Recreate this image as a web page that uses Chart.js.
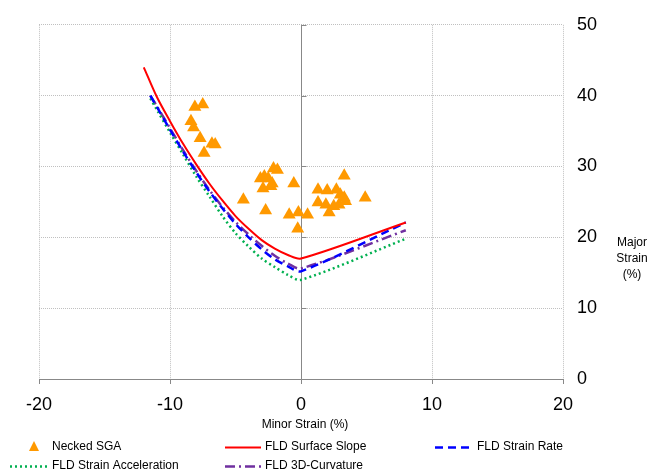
<!DOCTYPE html>
<html lang="en">
<head>
  <meta charset="UTF-8">
  <title>Forming Limit Diagram</title>
  <script src="https://cdn.jsdelivr.net/npm/chart.js"></script>
  <style>
    html, body { margin: 0; padding: 0; background: #fff; }
    #wrap { width: 661px; height: 474px; position: relative; }
  </style>
</head>
<body>
  <div id="wrap"><canvas id="fldChart" width="661" height="474"></canvas></div>

  <script>
    // Necked SGA measurements (minor, major strain %)
    const sgaMinor = [-8.1, -7.5, -8.4, -8.2, -7.7, -6.8, -6.55, -7.4,
      -2.1, -1.8, -3.1, -2.8, -2.5, -2.2, -2.9, -2.3, -0.55, -4.4, -2.7, -0.9, -0.2, 0.5, -0.25,
      3.3, 1.3, 2.0, 2.7, 3.0, 3.3, 4.9, 1.3, 1.9, 2.5, 2.9, 3.4, 2.15];
    const sgaMajor = [38.4, 38.75, 36.4, 35.5, 34.0, 33.2, 33.1, 31.9,
      29.7, 29.5, 28.3, 28.6, 28.3, 27.6, 26.9, 27.2, 27.6, 25.3, 23.8, 23.2, 23.5, 23.2, 21.2,
      28.7, 26.7, 26.6, 26.7, 26.0, 25.6, 25.6, 24.9, 24.6, 24.4, 24.6, 25.1, 23.5];

    // FLD curves
    const slopeMinor = [-12, -11, -10, -9, -8, -7, -6, -5, -4, -3, -2, -1, 0, 8];
    const slopeMajor = [44.0, 39.8, 36.4, 33.2, 30.3, 27.6, 25.2, 23.0, 21.2, 19.6, 18.4, 17.5, 17.0, 22.1];

    const curveMinor = [-11.5, -11, -10, -9, -8, -7, -6, -5, -4, -3, -2, -1, 0, 8];
    const rateMajor = [40.0, 38.4, 35.2, 32.1, 29.2, 26.5, 24.1, 21.9, 20.0, 18.3, 16.9, 15.9, 15.2, 22.1];
    const accelMajor = [39.6, 38.0, 34.8, 31.7, 28.6, 25.8, 23.0, 20.6, 18.7, 17.0, 15.8, 14.7, 14.0, 19.8];
    const curvMajor = [40.0, 38.5, 35.4, 32.3, 29.4, 26.7, 24.3, 22.2, 20.4, 18.8, 17.4, 16.3, 15.6, 21.0];

    const xTicks = [-20, -10, 0, 10, 20];
    const yTicks = [0, 10, 20, 30, 40, 50];

    const toPoints = (xs, ys) => xs.map((x, i) => ({ x: x, y: ys[i] }));

    const FONT = '"Liberation Sans", Arial, sans-serif';

    // custom legend, axis titles and the zero line
    const extras = {
      id: 'extras',
      beforeDatasetsDraw(chart) {
        const { ctx, chartArea, scales } = chart;
        const x0 = Math.round(scales.x.getPixelForValue(0)) + 0.5;
        ctx.save();
        ctx.strokeStyle = '#888';
        ctx.lineWidth = 1;
        ctx.beginPath();
        ctx.moveTo(x0, chartArea.top);
        ctx.lineTo(x0, chartArea.bottom);
        yTicks.forEach(v => {
          const py = Math.round(scales.y.getPixelForValue(v)) + 0.5;
          ctx.moveTo(x0, py);
          ctx.lineTo(x0 + 5, py);
        });
        ctx.stroke();
        ctx.restore();
      },
      afterDraw(chart) {
        const ctx = chart.ctx;
        const ds = chart.data.datasets;
        const area = chart.chartArea;
        ctx.save();
        ctx.font = '12px ' + FONT;
        ctx.fillStyle = '#000';
        ctx.textBaseline = 'middle';

        // axis titles
        ctx.textAlign = 'center';
        ctx.fillText('Minor Strain (%)', (area.left + area.right) / 2 + 4, 425);
        ['Major', 'Strain', '(%)'].forEach((t, i) => ctx.fillText(t, 632, 243 + i * 16));

        ctx.textAlign = 'left';
        const items = [
          { i: 0, x: 26, y: 447, tx: 52 },
          { i: 1, x: 225, y: 447, tx: 265 },
          { i: 2, x: 435, y: 447, tx: 477 },
          { i: 3, x: 10, y: 466, tx: 52 },
          { i: 4, x: 225, y: 466, tx: 265 }
        ];
        items.forEach(it => {
          const d = ds[it.i];
          if (it.i === 0) {
            ctx.fillStyle = d.backgroundColor;
            ctx.beginPath();
            ctx.moveTo(34, it.y - 6);
            ctx.lineTo(39, it.y + 4);
            ctx.lineTo(29, it.y + 4);
            ctx.closePath();
            ctx.fill();
          } else {
            ctx.strokeStyle = d.borderColor;
            ctx.lineWidth = d.borderWidth;
            ctx.setLineDash(d.borderDash || []);
            ctx.beginPath();
            ctx.moveTo(it.x, it.y + 0.5);
            ctx.lineTo(it.tx - 4, it.y + 0.5);
            ctx.stroke();
            ctx.setLineDash([]);
          }
          ctx.fillStyle = '#000';
          ctx.fillText(d.label, it.tx, it.y);
        });
        ctx.restore();
      }
    };

    const ctx = document.getElementById('fldChart').getContext('2d');
    new Chart(ctx, {
      type: 'scatter',
      data: {
        datasets: [
          {
            label: 'Necked SGA',
            data: toPoints(sgaMinor, sgaMajor),
            pointStyle: 'triangle',
            pointRadius: 7.5,
            borderWidth: 0,
            backgroundColor: '#FF9900',
            borderColor: '#FF9900'
          },
          {
            label: 'FLD Surface Slope',
            type: 'line',
            data: toPoints(slopeMinor, slopeMajor),
            borderColor: '#FF0000',
            borderWidth: 2,
            pointRadius: 0,
            tension: 0.3,
            fill: false
          },
          {
            label: 'FLD Strain Rate',
            type: 'line',
            data: toPoints(curveMinor, rateMajor),
            borderColor: '#0000FF',
            borderWidth: 2.5,
            borderDash: [8, 5],
            pointRadius: 0,
            tension: 0.3,
            fill: false
          },
          {
            label: 'FLD Strain Acceleration',
            type: 'line',
            data: toPoints(curveMinor, accelMajor),
            borderColor: '#00B050',
            borderWidth: 2.5,
            borderDash: [2, 3],
            pointRadius: 0,
            tension: 0.3,
            fill: false
          },
          {
            label: 'FLD 3D-Curvature',
            type: 'line',
            data: toPoints(curveMinor, curvMajor),
            borderColor: '#7030A0',
            borderWidth: 2.5,
            borderDash: [10, 4, 2, 4],
            pointRadius: 0,
            tension: 0.3,
            fill: false
          }
        ]
      },
      options: {
        responsive: false,
        animation: false,
        layout: { padding: { left: 39, top: 19, right: 0, bottom: 0 } },
        plugins: {
          legend: { display: false },
          tooltip: { enabled: false }
        },
        scales: {
          x: {
            type: 'linear',
            min: -20,
            max: 20,
            afterBuildTicks: s => { s.ticks = xTicks.map(v => ({ value: v })); },
            afterFit: s => { s.height = 95; },
            grid: {
              color: '#c0c0c0',
              tickColor: '#888',
              tickLength: 5
            },
            border: { display: true, color: '#888', dash: [1, 1] },
            ticks: {
              color: '#000',
              padding: 10,
              font: { family: FONT, size: 18 }
            }
          },
          y: {
            type: 'linear',
            position: 'right',
            min: 0,
            max: 50,
            afterBuildTicks: s => { s.ticks = yTicks.map(v => ({ value: v })); },
            afterFit: s => { s.width = 98; },
            grid: {
              color: '#c0c0c0',
              drawTicks: false
            },
            border: { display: false, dash: [1, 1] },
            ticks: {
              color: '#000',
              padding: 14,
              font: { family: FONT, size: 18 }
            }
          }
        }
      },
      plugins: [extras]
    });
  </script>
</body>
</html>
